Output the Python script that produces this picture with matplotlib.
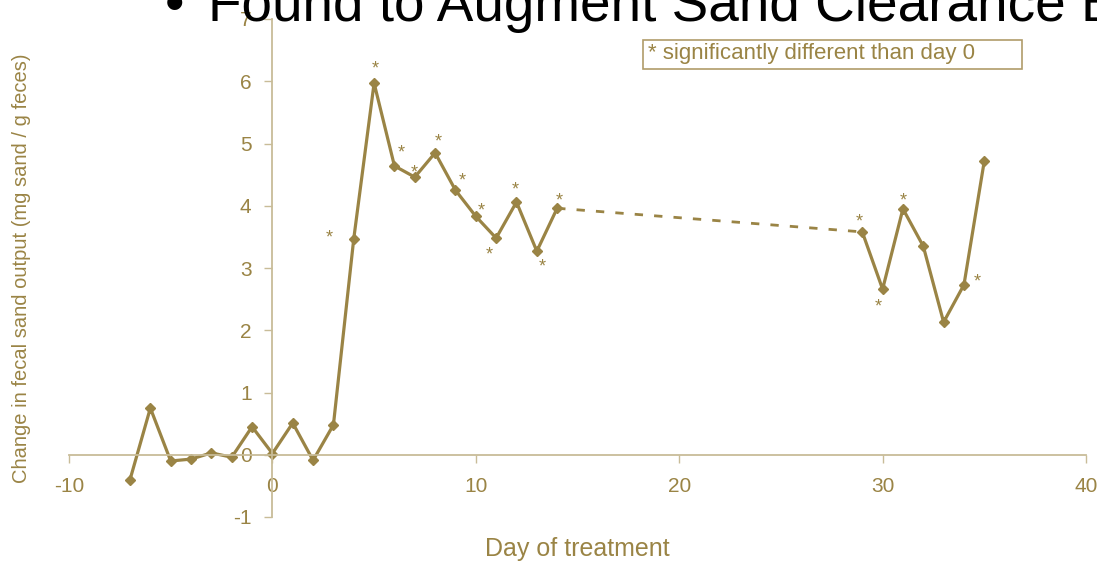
import matplotlib
matplotlib.use("Agg")
import matplotlib.pyplot as plt
from matplotlib.patches import Rectangle

plt.rcParams['font.family'] = ['Liberation Sans', 'DejaVu Sans']
plt.rcParams['axes.unicode_minus'] = False

# data
days_pre = [-7, -6, -5, -4, -3, -2, -1, 0, 1, 2, 3, 4, 5, 6, 7, 8, 9, 10, 11, 12, 13, 14]
sand_pre = [-0.40, 0.75, -0.10, -0.07, 0.03, -0.04, 0.45, 0.02, 0.51, -0.09, 0.48,
            3.47, 5.97, 4.64, 4.46, 4.85, 4.25, 3.83, 3.48, 4.06, 3.27, 3.96]
days_gap = [14, 29]
sand_gap = [3.96, 3.58]
days_post = [29, 30, 31, 32, 33, 34, 35]
sand_post = [3.58, 2.66, 3.95, 3.35, 2.13, 2.73, 4.72]
sig_days = [4, 5, 6, 7, 8, 9, 10, 11, 12, 13, 14, 29, 30, 31, 34]
x_ticks = [-10, 0, 10, 20, 30, 40]
y_ticks = [-1, 0, 1, 2, 3, 4, 5, 6, 7]

gold = '#9a8445'
axis_col = '#c8bc98'

fig = plt.figure(figsize=(10.97, 5.62), dpi=100)
W, H = 1097, 562
ax = fig.add_axes([69 / W, 1 - 517 / H, (1086 - 69) / W, (517 - 19) / H])
ax.set_xlim(-10, 40)
ax.set_ylim(-1, 7)

ax.plot(days_pre, sand_pre, color=gold, lw=2.3, marker='D', ms=5, clip_on=False)
ax.plot(days_gap, sand_gap, color=gold, lw=2.0, ls=(0, (3, 4)))
ax.plot(days_post, sand_post, color=gold, lw=2.3, marker='D', ms=5)

# asterisk placement (pixel offsets from each point)
star_off = {4: (-25, 5), 5: (1, 18), 6: (7, 17), 7: (-1, 8), 8: (3, 15), 9: (7, 13),
            10: (5, 9), 11: (-7, -13), 12: (-1, 16), 13: (5, -12), 14: (2, 11),
            29: (-3, 14), 30: (-4, -14), 31: (0, 12), 34: (13, 7)}
lookup = dict(zip(days_pre + days_post, sand_pre + sand_post))
for d in sig_days:
    dx, dy = star_off[d]
    ax.annotate('*', xy=(d, lookup[d]), xytext=(dx, dy - 4), textcoords='offset pixels',
                ha='center', va='center', fontsize=13, color=gold)

for s in ['top', 'right']:
    ax.spines[s].set_visible(False)
ax.spines['left'].set_position(('data', 0))
ax.spines['bottom'].set_position(('data', 0))
for s in ['left', 'bottom']:
    ax.spines[s].set_color(axis_col)
    ax.spines[s].set_linewidth(1.3)

ax.set_xticks(x_ticks)
ax.set_yticks(y_ticks)
ax.tick_params(axis='x', direction='out', length=6, width=1, color=axis_col,
               labelcolor=gold, labelsize=15, pad=10)
ax.tick_params(axis='y', direction='out', length=6, width=1, color=axis_col,
               labelcolor=gold, labelsize=15, pad=9)

fig.text(577 / W, 1 - 549 / H, 'Day of treatment', color=gold, fontsize=18,
         ha='center', va='center')
fig.text(22 / W, 1 - 268 / H, 'Change in fecal sand output (mg sand / g feces)',
         color=gold, fontsize=14.5, rotation=90, ha='center', va='center')

# note box
fig.patches.append(Rectangle((643 / W, 1 - 69 / H), (1022 - 643) / W, 29 / H,
                             transform=fig.transFigure, fill=False, ec='#b09c6a', lw=1.2))
fig.text(648 / W, 1 - 54 / H, '* significantly different than day 0', color=gold,
         fontsize=16, ha='left', va='center')

# slide title, cut off by the top edge
fig.text(165 / W, 1 - 21 / H, '\u2022', color='black', fontsize=40, ha='left', va='baseline')
fig.text(208 / W, 1 - 21 / H, 'Found to Augment Sand Clearance By', color='black',
         fontsize=39.5, ha='left', va='baseline')

fig.savefig('out.png', dpi=100)
